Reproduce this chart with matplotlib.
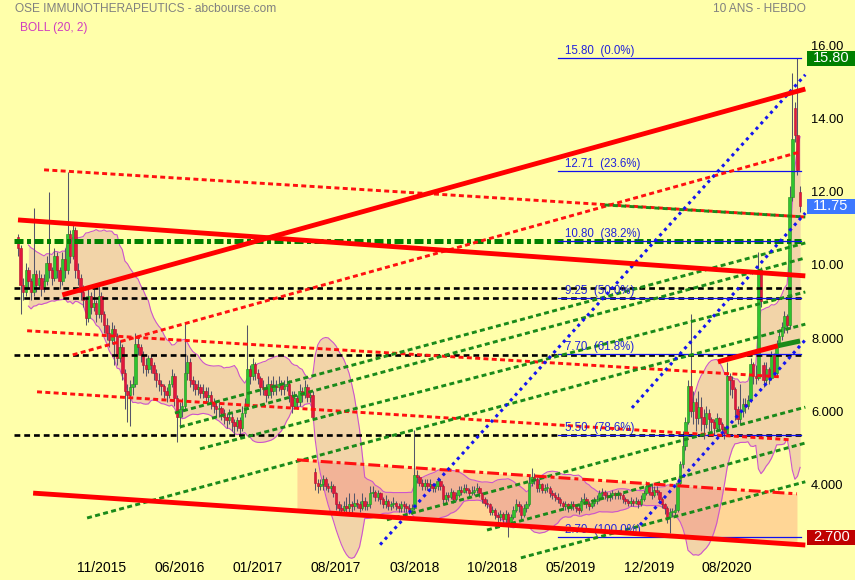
import matplotlib
matplotlib.use("Agg")
import matplotlib.pyplot as plt
import numpy as np
import pandas as pd
from matplotlib.patches import Rectangle
from matplotlib.transforms import ScaledTranslation, blended_transform_factory
from matplotlib import font_manager

# ---------------- weekly OHLC data (open = previous close unless listed) ----------------
close_a = [10.6, 9.6, 9.4, 10.0, 9.7, 9.4, 9.9, 9.6, 9.8, 9.5,
           9.7, 10.2, 10.0, 9.8, 10.4, 10.0, 9.7, 10.3, 10.0, 11.0,
           10.4, 11.1, 10.0, 9.8, 9.4, 9.2, 8.7, 9.3, 9.0, 9.1,
           8.8, 9.3, 8.8, 8.5, 8.3, 8.1, 8.4, 8.2, 7.6, 7.9,
           7.2, 6.7, 6.6, 6.8, 6.9, 8.0, 7.9, 7.7, 7.4, 7.3]
high_a = [11.0, 10.7, 9.8, 10.2, 10.1, 9.8, 11.7, 10.0, 10.0, 9.9,
          9.9, 10.4, 12.15, 10.1, 10.6, 10.5, 10.1, 10.5, 10.6, 12.7,
          11.1, 11.3, 11.2, 10.2, 9.9, 9.6, 9.3, 9.5, 9.4, 9.5,
          9.2, 9.6, 9.4, 8.9, 8.7, 8.5, 8.6, 8.5, 8.3, 8.1,
          8.0, 7.3, 6.9, 7.0, 7.1, 8.3, 8.2, 8.0, 7.8, 7.6]
low_a = [10.4, 8.8, 9.2, 9.3, 9.5, 9.2, 9.3, 9.4, 9.5, 9.3,
         9.4, 9.6, 9.8, 9.6, 9.7, 9.8, 9.5, 9.6, 9.8, 9.9,
         10.2, 10.3, 9.8, 9.6, 9.2, 9.0, 8.5, 8.6, 8.8, 8.9,
         8.6, 8.7, 8.6, 8.3, 8.1, 7.9, 8.0, 7.4, 7.4, 7.5,
         7.0, 6.2, 5.85, 5.75, 6.6, 6.8, 7.7, 7.5, 7.2, 7.1]

close_b = [7.6, 7.4, 7.2, 7.0, 6.9, 6.85, 6.7, 6.6, 6.9, 7.1,
           6.5, 6.0, 6.2, 6.3, 7.2, 7.5, 7.0, 6.9, 6.75, 6.8,
           6.65, 6.7, 6.55, 6.6, 6.4, 6.3, 6.2, 6.25, 6.1, 6.0,
           5.9, 6.0, 5.85, 5.75, 5.9, 5.7, 6.1, 6.3, 7.3, 7.1,
           7.45, 7.2, 7.05, 6.8, 6.75, 6.6, 6.9, 6.7, 6.85, 6.8]
high_b = [7.7, 7.7, 7.5, 7.3, 7.2, 7.0, 6.9, 6.8, 7.0, 7.3,
          7.2, 6.6, 6.4, 6.5, 8.6, 7.7, 7.6, 7.1, 7.0, 7.0,
          6.9, 6.9, 6.8, 6.8, 6.7, 6.5, 6.4, 6.4, 6.3, 6.2,
          6.1, 6.2, 6.1, 5.95, 6.0, 6.0, 6.3, 6.5, 8.5, 7.4,
          7.6, 7.5, 7.3, 7.1, 7.0, 6.9, 7.1, 7.0, 7.1, 7.0]
low_b = [7.2, 7.2, 7.0, 6.8, 6.7, 6.6, 6.5, 6.4, 6.5, 6.8,
         6.3, 5.3, 5.7, 6.0, 6.2, 7.0, 6.8, 6.7, 6.6, 6.6,
         6.5, 6.5, 6.4, 6.4, 6.2, 6.1, 6.0, 6.0, 5.9, 5.8,
         5.7, 5.8, 5.6, 5.5, 5.6, 5.5, 5.6, 6.0, 6.2, 6.9,
         7.0, 7.0, 6.9, 6.6, 6.6, 6.4, 6.5, 6.5, 6.6, 6.6]

close_c = [6.9, 6.75, 6.85, 6.9, 6.6, 6.3, 6.5, 6.4, 6.7, 6.6,
           6.8, 6.55, 6.6, 6.0, 4.2, 4.1, 4.15, 4.3, 4.1, 4.05,
           4.1, 3.9, 3.6, 3.5, 3.45, 3.55, 3.5, 3.6, 3.55, 3.65,
           3.6, 3.5, 3.7, 3.55, 3.6, 3.9, 3.95, 3.8, 3.9, 3.75,
           3.6, 3.7, 3.55, 3.6, 3.65, 3.55, 3.5, 3.6, 3.55, 3.5]
high_c = [7.1, 7.0, 7.0, 7.1, 7.0, 6.7, 6.7, 6.6, 6.9, 6.8,
          7.0, 6.9, 6.7, 6.7, 4.6, 4.3, 4.3, 4.4, 4.35, 4.2,
          4.25, 4.15, 3.95, 3.7, 3.6, 3.7, 3.8, 3.9, 3.7, 3.9,
          3.75, 3.7, 3.9, 3.8, 3.7, 4.1, 4.1, 4.0, 4.0, 3.95,
          3.8, 3.85, 3.75, 3.7, 3.8, 3.7, 3.65, 3.7, 3.7, 3.65]
low_c = [6.7, 6.6, 6.6, 6.7, 6.4, 6.1, 6.2, 6.2, 6.3, 6.4,
         6.5, 6.4, 6.4, 5.9, 4.0, 3.9, 4.0, 4.0, 4.0, 3.95,
         3.95, 3.8, 3.45, 3.4, 3.35, 3.35, 3.4, 3.4, 3.3, 3.45,
         3.5, 3.4, 3.45, 3.45, 3.45, 3.5, 3.8, 3.7, 3.7, 3.6,
         3.5, 3.5, 3.45, 3.45, 3.5, 3.45, 3.4, 3.4, 3.4, 3.4]

close_d = [3.45, 3.5, 4.4, 4.35, 4.2, 4.1, 4.2, 4.1, 4.15, 4.05,
           4.1, 4.25, 4.1, 3.75, 3.85, 3.8, 3.95, 3.75, 3.85, 4.0,
           3.95, 4.05, 4.0, 3.9, 3.95, 4.0, 4.05, 3.9, 3.75, 3.65,
           3.6, 3.4, 3.45, 3.3, 3.25, 3.35, 3.2, 3.35, 3.1, 3.25,
           3.45, 3.6, 3.55, 3.3, 3.5, 3.6, 4.2, 4.35, 4.3, 4.05]
high_d = [3.6, 3.6, 5.63, 4.55, 4.4, 4.3, 4.3, 4.3, 4.3, 4.2,
          4.2, 4.35, 4.3, 4.15, 3.95, 3.95, 4.05, 4.0, 3.95, 4.1,
          4.1, 4.15, 4.15, 4.05, 4.1, 4.1, 4.2, 4.1, 3.95, 3.8,
          3.75, 3.65, 3.55, 3.5, 3.4, 3.45, 3.4, 3.45, 3.4, 3.35,
          3.55, 3.75, 3.7, 3.6, 3.6, 3.7, 4.4, 4.6, 4.45, 4.35]
low_d = [3.35, 3.35, 3.45, 4.2, 4.1, 4.0, 4.0, 4.0, 4.0, 3.95,
         3.95, 4.0, 4.0, 3.65, 3.65, 3.7, 3.75, 3.65, 3.7, 3.8,
         3.85, 3.9, 3.9, 3.8, 3.85, 3.85, 3.9, 3.8, 3.65, 3.55,
         3.5, 3.3, 3.3, 3.2, 3.1, 3.15, 3.1, 3.1, 2.7, 3.0,
         3.2, 3.4, 3.4, 3.2, 3.25, 3.4, 3.55, 4.1, 4.15, 3.95]

close_e = [4.15, 4.0, 4.05, 4.05, 3.9, 3.85, 3.8, 3.75, 3.65, 3.55,
           3.6, 3.5, 3.6, 3.55, 3.5, 3.45, 3.7, 3.75, 3.6, 3.55,
           3.65, 3.7, 3.75, 3.9, 3.95, 3.85, 3.8, 3.85, 3.9, 3.85,
           3.9, 3.85, 3.75, 3.7, 3.65, 3.7, 3.65, 3.7, 3.6, 3.75,
           3.9, 4.1, 3.95, 3.85, 4.0, 3.95, 3.75, 3.6, 3.5, 3.25]
high_e = [4.3, 4.2, 4.15, 4.2, 4.1, 4.0, 3.95, 3.9, 3.8, 3.7,
          3.7, 3.65, 3.7, 3.7, 3.6, 3.6, 3.8, 3.9, 3.8, 3.7,
          3.75, 3.8, 3.85, 4.0, 4.05, 4.0, 3.95, 3.95, 4.0, 3.95,
          4.0, 3.95, 3.9, 3.8, 3.75, 3.8, 3.75, 3.8, 3.75, 3.85,
          4.0, 4.25, 4.2, 4.2, 4.1, 4.1, 4.0, 3.8, 3.65, 3.55]
low_e = [3.95, 3.9, 3.9, 3.95, 3.8, 3.75, 3.7, 3.65, 3.55, 3.45,
         3.45, 3.4, 3.45, 3.45, 3.4, 3.35, 3.4, 3.6, 3.5, 3.45,
         3.5, 3.55, 3.6, 3.7, 3.8, 3.75, 3.7, 3.7, 3.75, 3.75,
         3.75, 3.75, 3.65, 3.6, 3.55, 3.55, 3.55, 3.6, 3.5, 3.55,
         3.7, 3.85, 3.85, 3.75, 3.8, 3.85, 3.65, 3.5, 3.35, 3.1]

close_f = [3.4, 3.4, 3.45, 4.2, 4.7, 5.2, 5.85, 6.85, 6.15, 6.4,
           5.96, 6.27, 6.0, 5.8, 6.1, 5.95, 5.85, 5.7, 5.96, 5.8,
           5.65, 5.55, 7.1, 7.0, 6.75, 6.2, 5.95, 6.15, 6.35, 6.3,
           6.45, 7.45, 7.1, 7.05, 10.0, 9.15, 7.0, 7.3, 7.05, 7.7,
           7.2, 8.0, 8.2, 8.45, 8.75, 8.5, 12.0, 13.6, 13.7, 12.75,
           11.75]
high_f = [3.5, 3.5, 3.6, 4.3, 4.8, 5.6, 6.0, 7.0, 8.8, 6.7,
          6.5, 6.7, 6.55, 6.2, 6.3, 6.2, 6.0, 5.95, 6.1, 6.0,
          5.85, 5.75, 7.5, 7.2, 7.1, 6.8, 6.3, 6.9, 6.5, 6.5,
          6.6, 7.6, 7.5, 7.4, 10.5, 10.1, 7.5, 7.5, 7.35, 7.8,
          7.75, 8.1, 8.4, 8.6, 8.9, 8.8, 12.3, 15.4, 14.6, 15.8,
          12.3]
low_f = [2.82, 3.25, 3.3, 3.4, 4.1, 4.6, 5.1, 5.8, 6.0, 5.8,
         5.6, 5.8, 5.6, 5.4, 5.7, 5.6, 5.6, 5.5, 5.6, 5.6,
         5.5, 5.4, 5.5, 6.6, 6.5, 5.9, 5.8, 5.8, 6.0, 6.1,
         6.2, 6.4, 6.9, 6.9, 7.0, 9.0, 6.8, 6.9, 6.9, 7.0,
         7.1, 7.1, 7.9, 8.1, 8.3, 8.3, 8.4, 11.9, 13.5, 12.6,
         11.6]

gap_opens = {0: 10.9, 114: 4.5, 286: 7.4, 298: 14.45, 300: 12.15}

x_labels = ["11/2015", "06/2016", "01/2017", "08/2017", "03/2018",
            "10/2018", "05/2019", "12/2019", "08/2020"]
y_tick_values = [4, 6, 8, 10, 12, 14, 16]
y_tick_labels = ["4.000", "6.000", "8.000", "10.00", "12.00", "14.00", "16.00"]

# drawn studies: (bar0, price0, bar1, price1)
thick_red_lines = [(17, 9.33, 302, 14.96), (0, 11.38, 302, 9.85), (5.8, 3.91, 302, 2.49)]
short_red_line = (268.5, 7.50, 291.5, 7.94)
short_green_line = (291.5, 7.94, 300, 8.07)
red_dashed_lines = [(10, 12.75, 302, 11.46), (21, 7.69, 300, 13.24),
                    (3.5, 8.35, 292.3, 7.09), (7.3, 6.68, 296, 5.37)]
red_dashdot_line = (107, 4.82, 298.8, 3.89)
green_dashed_lines = [(225, 11.79, 302, 11.46), (26.5, 3.23, 302, 8.53),
                      (69.8, 5.12, 302, 9.41), (60.2, 6.10, 302, 10.75),
                      (62.1, 5.72, 302, 10.34), (141.5, 3.18, 302, 6.26),
                      (179.9, 2.90, 302, 5.28), (192.9, 2.14, 302, 4.22)]
blue_dotted_lines = [(138.9, 2.50, 302, 15.35), (235.5, 6.24, 302, 11.57),
                     (238.6, 3.04, 302, 8.10)]
green_level = 10.80
black_levels = [9.52, 9.25, 7.70, 5.50]
fib_ratios = [0.0, 0.236, 0.382, 0.5, 0.618, 0.786, 1.0]

# ---------------- assemble series ----------------
close = np.array(close_a + close_b + close_c + close_d + close_e + close_f)
high = np.array(high_a + high_b + high_c + high_d + high_e + high_f)
low = np.array(low_a + low_b + low_c + low_d + low_e + low_f)
n = len(close)
opens = np.concatenate([[close[0]], close[:-1]])
for k, v in gap_opens.items():
    opens[k] = v
bars = np.arange(n)

s = pd.Series(close)
mid = s.rolling(20, min_periods=5).mean()
sd = s.rolling(20, min_periods=5).std(ddof=0)
bb_up = mid + 2 * sd
bb_lo = mid - 2 * sd

# ---------------- figure ----------------
BG = "#FFFFAA"
W, H = 855, 580
fig = plt.figure(figsize=(W / 100, H / 100), dpi=100)
fig.patch.set_facecolor(BG)
ax = fig.add_axes([0, 0, 1, 1])
ax.set_facecolor(BG)
px_per_bar = 2.607
x0_px = 18
ax.set_xlim(-x0_px / px_per_bar, (W - x0_px) / px_per_bar)
ax.set_ylim(1.534, 17.394)
ax.axis("off")

plt.rcParams["font.family"] = ["Liberation Sans", "DejaVu Sans"]
installed = {f.name for f in font_manager.fontManager.ttflist}
narrow = ["Liberation Sans Narrow", "Liberation Sans"] if "Liberation Sans Narrow" in installed else ["Liberation Sans"]


def line_of(seg):
    x0, y0, x1, y1 = seg
    return [x0, x1], [y0, y1]


# shaded zone between the lower channel and the dash-dot resistance
rx0, ry0, rx1, ry1 = red_dashdot_line
bx0, by0, bx1, by1 = thick_red_lines[2]
zx = np.linspace(rx0, rx1, 50)
z_top = ry0 + (ry1 - ry0) * (zx - rx0) / (rx1 - rx0)
z_bot = by0 + (by1 - by0) * (zx - bx0) / (bx1 - bx0)
ax.fill_between(zx, z_bot, z_top, color="#FFD696", lw=0, zorder=1)

# Bollinger bands
ax.fill_between(bars, bb_lo, bb_up, color=(190 / 255, 40 / 255, 160 / 255), alpha=0.2, lw=0, zorder=2)
ax.plot(bars, bb_up, color="#CC55CC", lw=0.8, zorder=3)
ax.plot(bars, bb_lo, color="#CC55CC", lw=0.8, zorder=3)

# candles
up = close >= opens
ax.vlines(bars, low, high, color="#55556A", lw=0.75, zorder=4)
body_lo = np.minimum(opens, close)
body_h = np.maximum(np.abs(close - opens), 0.03)
ax.bar(bars[up], body_h[up], bottom=body_lo[up], width=0.95, color="#2FC42F",
       edgecolor="#1D8F1D", lw=0.4, zorder=5)
ax.bar(bars[~up], body_h[~up], bottom=body_lo[~up], width=0.95, color="#E2163C",
       edgecolor="#B0102E", lw=0.4, zorder=5)

# horizontal levels
xl0, xl1 = -1.5, 300.5
for lv in black_levels:
    ax.plot([xl0, xl1], [lv, lv], color="black", lw=1.9, dashes=(2.2, 1.5), zorder=6)
ax.plot([xl0, xl1], [green_level, green_level], color="#008000", lw=3.6,
        dashes=(1.8, 0.7, 0.8, 0.7), zorder=7)

# Fibonacci retracement from the low to the high
fhi, flo = high.max(), low.min()
for r in fib_ratios:
    lv = fhi - r * (fhi - flo)
    ax.plot([207, 300.5], [lv, lv], color="#1010EE", lw=0.9, zorder=7)
    ax.text(209.8, lv + 0.03, f"{lv:.2f}  ({r * 100:.1f}%)", color="#2222DD",
            fontsize=8.3, ha="left", va="bottom", zorder=9)

# trend studies
for seg in red_dashed_lines:
    ax.plot(*line_of(seg), color="#FF1010", lw=2.1, dashes=(1.7, 1.15), zorder=8)
for seg in green_dashed_lines:
    ax.plot(*line_of(seg), color="#1A8A1A", lw=2.1, dashes=(1.7, 1.15), zorder=8)
ax.plot(*line_of(red_dashdot_line), color="#FF1010", lw=2.2, dashes=(3.9, 1.3, 1.3, 1.3), zorder=8)
for seg in blue_dotted_lines:
    ax.plot(*line_of(seg), color="#1414F0", lw=2.2, dashes=(1.0, 1.35), zorder=8)
for seg in thick_red_lines:
    ax.plot(*line_of(seg), color="#FF0000", lw=3.5, solid_capstyle="butt", zorder=9)
ax.plot(*line_of(short_red_line), color="#FF0000", lw=3.6, solid_capstyle="butt", zorder=9)
ax.plot(*line_of(short_green_line), color="#1A8A1A", lw=3.6, solid_capstyle="butt", zorder=9)

# axis labels drawn inside the frame
ylab_tr = blended_transform_factory(ax.transAxes, ax.transData)
lift = ScaledTranslation(0, 0.04, fig.dpi_scale_trans)
for v, t in zip(y_tick_values, y_tick_labels):
    ax.text(811 / W, v, t, transform=ylab_tr + lift, ha="left", va="center",
            fontsize=9.3, color="black", zorder=10)

label_bars = range(32, 32 + 30 * len(x_labels), 30)
for b, t in zip(label_bars, x_labels):
    ax.text(b, 1.86, t, ha="center", va="center", fontsize=10, family=narrow,
            color="black", zorder=10)

# value flags on the price scale
flags = [(fhi, f"{fhi:.2f}", "#008000"),
         (close[-1], f"{close[-1]:.2f}", "#3C78FF"),
         (flo, f"{flo:.3f}", "#C00000")]
for v, t, c in flags:
    ax.add_patch(Rectangle((807 / W, v - 0.205), 48 / W, 0.41, transform=ylab_tr,
                           facecolor=c, edgecolor="none", zorder=11, clip_on=False))
    ax.text(813 / W, v, t, transform=ylab_tr, ha="left", va="center",
            fontsize=10.5, color="white", zorder=12)

# headers
fig.text(15 / W, 1 - 9 / H, "OSE IMMUNOTHERAPEUTICS - abcbourse.com", color="#808080",
         fontsize=8.6, ha="left", va="center")
fig.text(20 / W, 1 - 28 / H, "BOLL (20, 2)", color="#D03CC0", fontsize=8.6,
         ha="left", va="center")
fig.text(713 / W, 1 - 9 / H, "10 ANS - HEBDO", color="#808080", fontsize=8.6,
         ha="left", va="center")

fig.savefig("out.png", dpi=100, facecolor=BG)
